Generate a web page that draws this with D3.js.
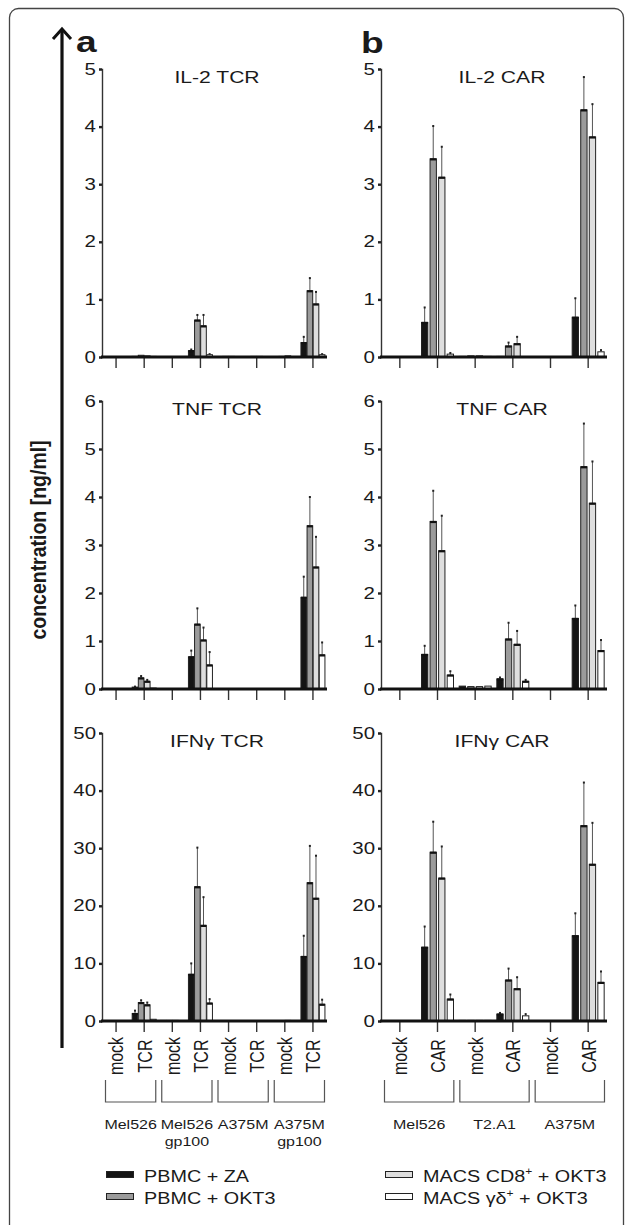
<!DOCTYPE html>
<html>
<head>
<meta charset="utf-8">
<script src="https://cdn.jsdelivr.net/npm/d3@7/dist/d3.min.js"></script>
<style>
  body { margin: 0; background: #fff; }
  text { font-family: "Liberation Sans", Arial, sans-serif; fill: #1a1a1a; }
</style>
</head>
<body>
<svg id="fig" width="627" height="1225"></svg>
<script>
// ---- data ----
var series = ["PBMC + ZA", "PBMC + OKT3", "MACS CD8+ + OKT3", "MACS γδ+ + OKT3"];
var seriesFill = ["#141414", "#9b9b9b", "#dedede", "#ffffff"];

var catsA = ["Mel526 mock", "Mel526 TCR", "Mel526gp100 mock", "Mel526gp100 TCR",
             "A375M mock", "A375M TCR", "A375Mgp100 mock", "A375Mgp100 TCR"];
var tickA = ["mock", "TCR", "mock", "TCR", "mock", "TCR", "mock", "TCR"];
var groupsA = [["Mel526"], ["Mel526", "gp100"], ["A375M"], ["A375M", "gp100"]];

var catsB = ["Mel526 mock", "Mel526 CAR", "T2.A1 mock", "T2.A1 CAR", "A375M mock", "A375M CAR"];
var tickB = ["mock", "CAR", "mock", "CAR", "mock", "CAR"];
var groupsB = [["Mel526"], ["T2.A1"], ["A375M"]];

// values per category: [ZA, OKT3, CD8, gd]
var il2Tcr    = [[0,0,0,0],[0.01,0.03,0.02,0.01],[0,0,0,0],[0.11,0.64,0.54,0.04],
                 [0,0.01,0.01,0],[0,0.01,0.01,0],[0,0.01,0.02,0],[0.25,1.15,0.92,0.04]];
var il2TcrErr = [[0,0,0,0],[0,0,0,0],[0,0,0,0],[0.02,0.09,0.19,0.01],
                 [0,0,0,0],[0,0,0,0],[0,0,0,0],[0.10,0.22,0.21,0.01]];
var il2Car    = [[0,0,0,0],[0.60,3.44,3.12,0.05],[0.01,0.02,0.02,0.01],[0.01,0.19,0.23,0],
                 [0,0,0,0],[0.69,4.29,3.82,0.09]];
var il2CarErr = [[0,0,0,0],[0.26,0.57,0.53,0.02],[0,0,0,0],[0,0.06,0.12,0],
                 [0,0,0,0],[0.33,0.57,0.57,0.03]];

var tnfTcr    = [[0,0,0,0],[0.04,0.23,0.16,0.02],[0,0,0,0],[0.67,1.35,1.02,0.50],
                 [0,0,0,0],[0,0,0,0],[0,0,0,0],[1.91,3.40,2.54,0.71]];
var tnfTcrErr = [[0,0,0,0],[0.01,0.04,0.03,0],[0,0,0,0],[0.13,0.33,0.26,0.27],
                 [0,0,0,0],[0,0,0,0],[0,0,0,0],[0.43,0.60,0.63,0.26]];
var tnfCar    = [[0,0,0,0],[0.72,3.49,2.88,0.29],[0.06,0.05,0.05,0.06],[0.21,1.04,0.93,0.16],
                 [0,0,0,0],[1.47,4.63,3.87,0.80]];
var tnfCarErr = [[0,0,0,0],[0.18,0.64,0.73,0.08],[0,0,0,0],[0.03,0.34,0.28,0.03],
                 [0,0,0,0],[0.27,0.90,0.87,0.22]];

var ifnTcr    = [[0,0,0,0],[1.3,3.2,2.8,0.3],[0.1,0.1,0.1,0],[8.1,23.3,16.6,3.1],
                 [0.05,0.05,0.05,0],[0.05,0.05,0.05,0],[0.05,0.05,0.1,0],[11.2,24.0,21.3,2.9]];
var ifnTcrErr = [[0,0,0,0],[0.5,0.4,0.4,0],[0,0,0,0],[1.9,6.8,4.9,0.7],
                 [0,0,0,0],[0,0,0,0],[0,0,0,0],[3.6,6.4,7.4,0.8]];
var ifnCar    = [[0,0,0,0],[12.8,29.3,24.8,3.8],[0.1,0.1,0.1,0.1],[1.2,7.1,5.6,0.9],
                 [0,0,0,0],[14.8,33.9,27.2,6.7]];
var ifnCarErr = [[0,0,0,0],[3.6,5.3,5.5,0.8],[0,0,0,0],[0.2,2.0,2.0,0.3],
                 [0,0,0,0],[3.9,7.5,7.2,1.9]];

var rowTitlesA = ["IL-2 TCR", "TNF TCR", "IFNγ TCR"];
var rowTitlesB = ["IL-2 CAR", "TNF CAR", "IFNγ CAR"];
var rowMax = [5, 6, 50];
var rowTicks = [[0,1,2,3,4,5], [0,1,2,3,4,5,6], [0,10,20,30,40,50]];

// ---- layout ----
var SX = 1.28;  // the figure's text is stretched horizontally
var rows = [{ bottom: 357, top: 69 }, { bottom: 689, top: 401 }, { bottom: 1021, top: 733 }];
var panels = [
  { x0: 102, x1: 327, cats: catsA, ticks: tickA, groups: groupsA, titleX: 217, groupW: 24, pad: 0.08,
    data: [[il2Tcr, il2TcrErr], [tnfTcr, tnfTcrErr], [ifnTcr, ifnTcrErr]], titles: rowTitlesA },
  { x0: 381, x1: 607, cats: catsB, ticks: tickB, groups: groupsB, titleX: 502, groupW: 32, pad: 0.26,
    data: [[il2Car, il2CarErr], [tnfCar, tnfCarErr], [ifnCar, ifnCarErr]], titles: rowTitlesB }
];

var svg = d3.select("#fig");

function stretchText(parent, x, y, str, size, anchor, weight) {
  return parent.append("text")
      .attr("transform", "translate(" + x + "," + y + ") scale(" + SX + ",1)")
      .attr("text-anchor", anchor || "start")
      .attr("font-size", size)
      .attr("font-weight", weight || "normal")
      .text(str);
}

// frame
svg.append("rect")
    .attr("x", 9.5).attr("y", 8.5)
    .attr("width", 614).attr("height", 1240)
    .attr("rx", 9)
    .attr("fill", "none").attr("stroke", "#444").attr("stroke-width", 1.3);

// big arrow + axis title
svg.append("line")
    .attr("x1", 62).attr("x2", 62).attr("y1", 1048).attr("y2", 30)
    .attr("stroke", "#111").attr("stroke-width", 3.2);
svg.append("path")
    .attr("d", "M53,39 L62,29 L71,39")
    .attr("fill", "none").attr("stroke", "#111").attr("stroke-width", 3)
    .attr("stroke-linejoin", "miter");
svg.append("text")
    .attr("transform", "translate(46,540) rotate(-90) scale(1,1.15)")
    .attr("text-anchor", "middle")
    .attr("font-size", 19.5)
    .attr("font-weight", "bold")
    .text("concentration [ng/ml]");

stretchText(svg, 76, 52, "a", 29, "start", "bold");
stretchText(svg, 361, 53, "b", 29, "start", "bold");

panels.forEach(function (p) {
  var x = d3.scaleBand().domain(p.cats).range([p.x0, p.x1]);
  var inner = d3.scaleBand().domain(d3.range(series.length))
      .range([-p.groupW / 2, p.groupW / 2]).paddingInner(p.pad);

  rows.forEach(function (r, ri) {
    var y = d3.scaleLinear().domain([0, rowMax[ri]]).range([r.bottom, r.top]);
    var g = svg.append("g");
    var vals = p.data[ri][0], errs = p.data[ri][1];

    // y axis
    var ya = g.append("g")
        .attr("transform", "translate(" + p.x0 + ",0)")
        .call(d3.axisLeft(y).tickValues(rowTicks[ri]).tickFormat(d3.format("d"))
          .tickSize(3).tickPadding(5));
    ya.select(".domain").attr("stroke", "#333").attr("stroke-width", 1.4);
    ya.selectAll(".tick line").attr("stroke", "#222").attr("stroke-width", 2.4);
    ya.selectAll(".tick text")
        .attr("font-family", "Liberation Sans, Arial, sans-serif")
        .attr("font-size", 16)
        .attr("fill", "#1a1a1a")
        .attr("x", -6 / SX)
        .attr("transform", "scale(" + SX + ",1)");

    // bars
    var groups = g.selectAll(".cat").data(p.cats).enter().append("g")
        .attr("transform", function (c) { return "translate(" + (x(c) + x.bandwidth() / 2) + ",0)"; });

    groups.each(function (c, ci) {
      var cg = d3.select(this);
      var items = vals[ci].map(function (v, si) { return { v: v, e: errs[ci][si], s: si }; });
      // error bars
      cg.selectAll(".err").data(items.filter(function (d) { return d.e > 0; })).enter().append("line")
          .attr("x1", function (d) { return inner(d.s) + inner.bandwidth() / 2; })
          .attr("x2", function (d) { return inner(d.s) + inner.bandwidth() / 2; })
          .attr("y1", function (d) { return y(d.v); })
          .attr("y2", function (d) { return y(d.v + d.e); })
          .attr("stroke", "#555").attr("stroke-width", 1);
      cg.selectAll(".cap").data(items.filter(function (d) { return d.e > 0; })).enter().append("rect")
          .attr("x", function (d) { return inner(d.s) + inner.bandwidth() / 2 - 1; })
          .attr("y", function (d) { return y(d.v + d.e) - 1; })
          .attr("width", 2).attr("height", 2)
          .attr("fill", "#222");
      cg.selectAll(".bar").data(items.filter(function (d) { return d.v > 0; })).enter().append("rect")
          .attr("x", function (d) { return inner(d.s); })
          .attr("y", function (d) { return y(d.v); })
          .attr("width", inner.bandwidth())
          .attr("height", function (d) { return y(0) - y(d.v); })
          .attr("fill", function (d) { return seriesFill[d.s]; })
          .attr("stroke", "#222").attr("stroke-width", 1);
      cg.selectAll(".top").data(items.filter(function (d) { return d.v > 0.02 * rowMax[ri]; })).enter().append("line")
          .attr("x1", function (d) { return inner(d.s); })
          .attr("x2", function (d) { return inner(d.s) + inner.bandwidth(); })
          .attr("y1", function (d) { return y(d.v) + 0.5; })
          .attr("y2", function (d) { return y(d.v) + 0.5; })
          .attr("stroke", "#111").attr("stroke-width", 2.2);
    });

    // x axis
    var xa = g.append("g")
        .attr("transform", "translate(0," + r.bottom + ")")
        .call(d3.axisBottom(x).tickSize(11).tickFormat(""));
    xa.select(".domain").remove();
    xa.selectAll(".tick line").attr("stroke", "#333").attr("stroke-width", 1.4);
    g.append("line")
        .attr("x1", p.x0 - 1).attr("x2", p.x1)
        .attr("y1", r.bottom).attr("y2", r.bottom)
        .attr("stroke", "#111").attr("stroke-width", 2.8);

    // title
    stretchText(g, p.titleX, r.top + 14, p.titles[ri], 16.5, "middle");
  });

  // category labels under the last row
  var last = rows[rows.length - 1];
  svg.append("g").selectAll("text").data(p.cats).enter().append("text")
      .attr("transform", function (c) {
        return "translate(" + (x(c) + x.bandwidth() / 2) + "," + (last.bottom + 35) + ") rotate(-90) scale(1," + SX + ")";
      })
      .attr("text-anchor", "middle")
      .attr("dy", "0.36em")
      .attr("font-size", 16)
      .text(function (c, i) { return p.ticks[i]; });

  // brackets + group labels
  var bw = x.bandwidth();
  p.groups.forEach(function (lines, gi) {
    var xa0 = x(p.cats[gi * 2]) + 3.5, xa1 = x(p.cats[gi * 2 + 1]) + bw - 2.5;
    svg.append("path")
        .attr("d", "M" + xa0 + ",1080V1102H" + xa1 + "V1080")
        .attr("fill", "none").attr("stroke", "#555").attr("stroke-width", 1.2);
    lines.forEach(function (t, li) {
      stretchText(svg, (xa0 + xa1) / 2, 1129 + li * 17, t, 12.5, "middle");
    });
  });
});

// legend
var legendPos = [[106, 1175], [106, 1197], [385, 1175], [385, 1197]];
var legendLabels = [["PBMC + ZA"], ["PBMC + OKT3"], ["MACS CD8", "+", " + OKT3"], ["MACS γδ", "+", " + OKT3"]];
var lg = svg.append("g").selectAll("g").data(series).enter().append("g")
    .attr("transform", function (d, i) { return "translate(" + legendPos[i][0] + "," + legendPos[i][1] + ")"; });
lg.append("rect")
    .attr("x", 0.5).attr("y", -3.5).attr("width", 27).attr("height", 6)
    .attr("fill", function (d, i) { return seriesFill[i]; })
    .attr("stroke", "#222").attr("stroke-width", 1);
lg.append("text")
    .attr("transform", "translate(38,6.5) scale(1.2,1)")
    .attr("font-size", 16.5)
    .each(function (d, i) {
      var t = d3.select(this), parts = legendLabels[i];
      t.append("tspan").text(parts[0]);
      if (parts.length > 1) {
        t.append("tspan").attr("font-size", 10).attr("dy", -7).text(parts[1]);
        t.append("tspan").attr("dy", 7).text(parts[2]);
      }
    });
</script>
</body>
</html>
